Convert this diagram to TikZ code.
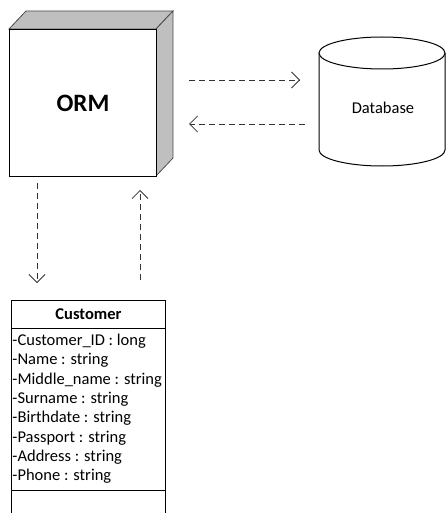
\documentclass[tikz,border=0pt]{standalone}
\usepackage{fontspec}
\setmainfont{Carlito}
\usetikzlibrary{arrows.meta}
\begin{document}
\begin{tikzpicture}[x=1pt,y=-1pt,line width=1pt,
  dep/.style={draw=black!80,line width=0.8pt,dash pattern=on 6pt off 4pt,
    -{Straight Barb[length=8pt,width=16pt,line width=0.8pt]}},
  face/.style={fill=black!25,draw=black!70,line width=0.8pt},
  attr/.style={anchor=base west,inner sep=0pt,font=\fontsize{16.5}{19}\selectfont}]
\useasboundingbox (0,0) rectangle (446,513);
% ORM node (3D box)
\draw[face] (9,29) -- (26,11) -- (173,11) -- (156,29) -- cycle;
\draw[face] (156,29) -- (173,11) -- (173,158) -- (156,176) -- cycle;
\node[draw,fill=white,minimum width=147pt,minimum height=147pt,inner sep=0pt,
  anchor=north west,font=\fontsize{25}{30}\selectfont\bfseries] (orm) at (9,29) {ORM};
% Database cylinder
\draw[fill=white] (319,53) -- (319,150)
  arc[start angle=180,end angle=0,x radius=63,y radius=16] -- (445,53);
\draw[fill=white] (382,53) ellipse[x radius=63,y radius=16];
\node[font=\fontsize{16.5}{19}\selectfont] (db) at (383,108) {Database};
% connectors
\coordinate (a1s) at (189,80);
\coordinate (a1e) at (300,80);
\coordinate (a2s) at (305,124);
\coordinate (a2e) at (189,124);
\coordinate (a3s) at (37,183);
\coordinate (a3e) at (37,283);
\coordinate (a4s) at (140,280);
\coordinate (a4e) at (140,190);
\draw[dep] (a1s) -- (a1e);
\draw[dep] (a2s) -- (a2e);
\draw[dep] (a3s) -- (a3e);
\draw[dep] (a4s) -- (a4e);
% Customer class
\node[draw,minimum width=154pt,minimum height=28pt,inner sep=0pt,anchor=north west,
  font=\fontsize{16.5}{19}\selectfont\bfseries] (cust) at (11,299.5) {Customer};
\draw (11,327.5) -- (11,514);
\draw (165,327.5) -- (165,514);
\draw (11,490) -- (165,490);
\node[attr] (f1) at (12,345.5) {-Customer\_ID : long};
\node[attr] (f2) at (12,364.8) {-Name : string};
\node[attr] (f3) at (12,384.1) {-Middle\_name : string};
\node[attr] (f4) at (12,403.4) {-Surname : string};
\node[attr] (f5) at (12,422.7) {-Birthdate : string};
\node[attr] (f6) at (12,442.0) {-Passport : string};
\node[attr] (f7) at (12,461.3) {-Address : string};
\node[attr] (f8) at (12,480.6) {-Phone : string};
\end{tikzpicture}
\end{document}
